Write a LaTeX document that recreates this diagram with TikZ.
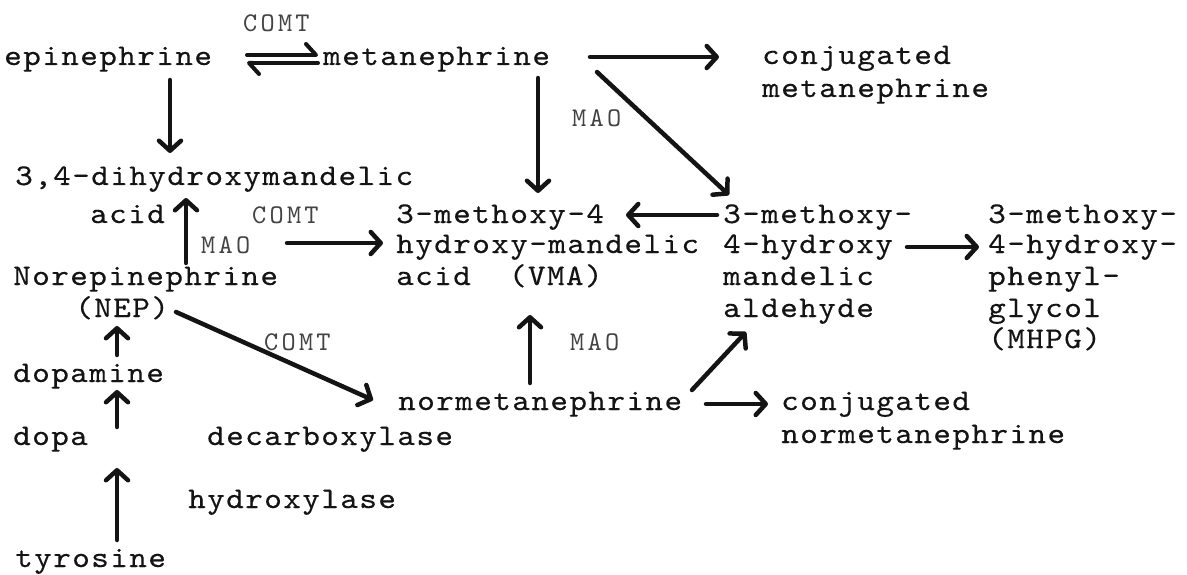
\documentclass[tikz,border=0pt]{standalone}
\usepackage{fontspec}
\usetikzlibrary{arrows.meta,calc}
% typewriter faces with wide, even pitch
\newfontfamily\typewriter{lmmono10-regular}[Extension=.otf, FakeStretch=1.12, FakeBold=0.3, LetterSpace=4.6]
\newfontfamily\typelabel{lmmono10-regular}[Extension=.otf, LetterSpace=12]
\definecolor{ink}{HTML}{141414}
\begin{document}
\begin{tikzpicture}[x=1pt,y=-1pt,
  typed/.style={anchor=base west, inner sep=0pt, text=ink,
    font=\typewriter\fontsize{30}{34}\selectfont},
  enzyme/.style={anchor=base west, inner sep=0pt, text=ink!80,
    font=\typelabel\fontsize{27}{31}\selectfont},
  flow/.style={draw=ink, line width=4.5pt, line cap=round,
    -{Straight Barb[length=10pt,width=22pt,round]}},
  harpoon/.style={draw=ink, line width=4pt, line cap=round,
    -{Straight Barb[left,length=10pt,width=22pt,round]}}]
\useasboundingbox (0,0) rectangle (1187,575);

% metabolites
\node[typed] (epi)   at (4,65)    {epinephrine};
\node[typed] (met)   at (323,65)  {metanephrine};
\node[typed] (cm1)   at (762,64)  {conjugated};
\node[typed] (cm2)   at (762,97)  {metanephrine};
\node[typed] (dhma1) at (15,185)  {3,4-dihydroxymandelic};
\node[typed] (dhma2) at (90,223)  {acid};
\node[typed] (vma1)  at (396,223) {3-methoxy-4};
\node[typed] (vma2)  at (396,253) {hydroxy-mandelic};
\node[typed] (vma3)  at (396,285) {acid~~(VMA)};
\node[typed] (ald1)  at (723,223) {3-methoxy-};
\node[typed] (ald2)  at (723,253) {4-hydroxy};
\node[typed] (ald3)  at (723,285) {mandelic};
\node[typed] (ald4)  at (723,317) {aldehyde};
\node[typed] (mh1)   at (988,223) {3-methoxy-};
\node[typed] (mh2)   at (988,253) {4-hydroxy-};
\node[typed] (mh3)   at (988,285) {phenyl-};
\node[typed] (mh4)   at (988,317) {glycol};
\node[typed] (mh5)   at (988,348) {(MHPG)};
\node[typed] (nor)   at (13,285)  {Norepinephrine};
\node[typed] (nep)   at (75,317)  {(NEP)};
\node[typed] (nmet)  at (398,410) {normetanephrine};
\node[typed] (cn1)   at (781,410) {conjugated};
\node[typed] (cn2)   at (781,443) {normetanephrine};
\node[typed] (dopam) at (13,382)  {dopamine};
\node[typed] (dopa)  at (13,445)  {dopa};
\node[typed] (tyr)   at (15,567)  {tyrosine};

% enzymes
\node[enzyme] (comt1) at (243,32)  {COMT};
\node[enzyme] (mao1)  at (572,127) {MAO};
\node[enzyme] (comt2) at (252,223) {COMT};
\node[enzyme] (mao2)  at (201,253) {MAO};
\node[enzyme] (comt3) at (264,350) {COMT};
\node[enzyme] (mao3)  at (570,350) {MAO};
\node[typed]  (decarb) at (207,445) {decarboxylase};
\node[typed]  (hydrox) at (188,508) {hydroxylase};

% reversible methylation
\draw[harpoon] ($(met.base west)+(-76,-10)$) -- ($(met.base west)+(-5,-10)$);
\draw[harpoon] ($(met.base west)+(-5,-2)$) -- ($(met.base west)+(-76,-2)$);

% one-way steps
\draw[flow] ($(epi.base west)+(166,15)$)   -- ($(dhma1.base west)+(155,-32)$);
\draw[flow] ($(met.base west)+(267,-8)$)   -- ($(cm1.base west)+(-43,-7)$);
\draw[flow] ($(met.base west)+(274,7)$)    -- ($(ald1.base west)+(6,-28)$);
\draw[flow] ($(met.base west)+(215,13)$)   -- ($(vma1.base west)+(142,-30)$);
\draw[flow] ($(nor.base west)+(173,-22)$)  -- ($(dhma1.base west)+(171,13)$);
\draw[flow] ($(mao2.base west)+(86,-10)$)  -- ($(vma2.base west)+(-13,-10)$);
\draw[flow] ($(ald1.base west)+(-6,-8)$)   -- ($(vma1.base west)+(230,-8)$);
\draw[flow] ($(ald2.base west)+(184,-6)$)  -- ($(mh2.base west)+(-9,-6)$);
\draw[flow] ($(nep.base west)+(101,-5)$)   -- ($(nmet.base west)+(-25,-10)$);
\draw[flow] ($(nmet.base west)+(132,-27)$) -- ($(vma3.base west)+(134,30)$);
\draw[flow] ($(nmet.base west)+(294,-20)$) -- ($(ald4.base west)+(23,15)$);
\draw[flow] ($(nmet.base west)+(308,-6)$)  -- ($(cn1.base west)+(-13,-6)$);
\draw[flow] ($(dopam.base west)+(104,-27)$) -- ($(nep.base west)+(42,9)$);
\draw[flow] ($(dopa.base west)+(104,-18)$) -- ($(dopam.base west)+(104,8)$);
\draw[flow] ($(tyr.base west)+(102,-27)$)  -- ($(dopa.base west)+(104,23)$);
\end{tikzpicture}
\end{document}
